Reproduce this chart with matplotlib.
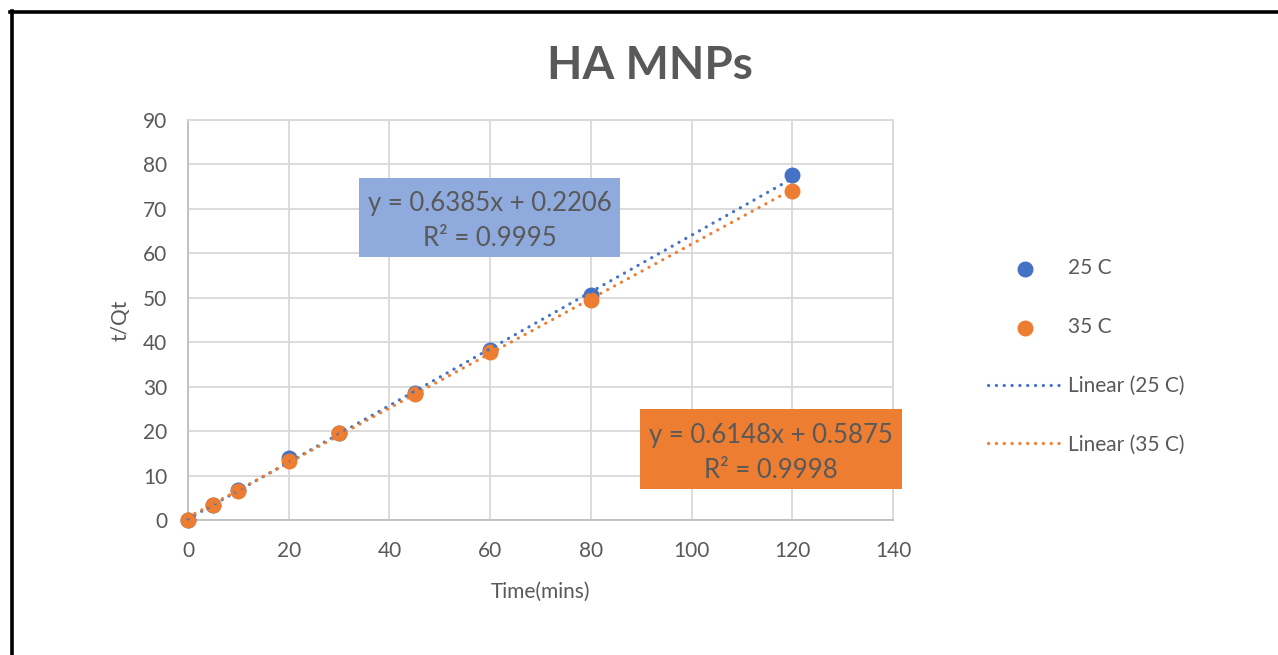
import numpy as np
import matplotlib
matplotlib.use("Agg")
import matplotlib.pyplot as plt
from matplotlib.lines import Line2D
from matplotlib.patches import Rectangle

# ──────────────────────────────────────────
# Data
# ──────────────────────────────────────────
time_mins = [0, 5, 10, 20, 30, 45, 60, 80, 120]
tqt_25c = [0.0, 3.4, 6.7, 14.0, 19.6, 28.6, 38.2, 50.6, 77.6]
tqt_35c = [0.0, 3.3, 6.6, 13.2, 19.5, 28.4, 37.9, 49.6, 74.1]

# Excel trendline coefficients as printed on the chart
fit_25c = (0.6385, 0.2206, 0.9995)   # slope, intercept, R²
fit_35c = (0.6148, 0.5875, 0.9998)

series_labels = ["25 C", "35 C"]
x_ticks = [0, 20, 40, 60, 80, 100, 120, 140]
y_ticks = [0, 10, 20, 30, 40, 50, 60, 70, 80, 90]

# ──────────────────────────────────────────
# Style
# ──────────────────────────────────────────
BLUE = "#4472C4"
ORANGE = "#ED7D31"
BOX_BLUE = "#8FAADC"
TEXT = "#595959"
GRID = "#D9D9D9"
FONT = ["Lato", "DejaVu Sans"]

plt.rcParams["font.family"] = FONT
W, H = 1278, 655
fig = plt.figure(figsize=(W / 100, H / 100), dpi=100)


def px(x0, y0, x1, y1):
    """Pixel box (from top-left) -> figure fraction rect."""
    return [x0 / W, 1 - y1 / H, (x1 - x0) / W, (y1 - y0) / H]


ax = fig.add_axes(px(188, 120, 893, 520))
ax.set_xlim(0, 140)
ax.set_ylim(0, 90)
ax.set_xticks(x_ticks)
ax.set_yticks(y_ticks)
ax.tick_params(length=0, labelsize=15, labelcolor=TEXT, pad=15)
ax.grid(True, color=GRID, linewidth=1.3)
ax.set_axisbelow(True)
for side in ["top", "right"]:
    ax.spines[side].set_color(GRID)
    ax.spines[side].set_linewidth(1.3)
for side in ["left", "bottom"]:
    ax.spines[side].set_color("#BFBFBF")
    ax.spines[side].set_linewidth(1.3)

# points
ax.scatter(time_mins, tqt_25c, s=110, color=BLUE, zorder=3,
           clip_on=False, label=series_labels[0])
ax.scatter(time_mins, tqt_35c, s=110, color=ORANGE, zorder=3,
           clip_on=False, label=series_labels[1])

# trendlines
xs = np.array([min(time_mins), max(time_mins)])
dots = (0, (0.05, 2.4))
for (m, b, _), col, lab in [(fit_25c, BLUE, series_labels[0]),
                            (fit_35c, ORANGE, series_labels[1])]:
    ax.plot(xs, m * xs + b, color=col, linewidth=2.3, linestyle=dots,
            dash_capstyle="round", zorder=4, clip_on=False,
            label=f"Linear ({lab})")

ax.set_xlabel("Time(mins)", fontsize=15, color=TEXT, labelpad=15)
ax.set_ylabel("t/Qt", fontsize=15, color=TEXT, labelpad=9)

fig.text(650 / W, 1 - 66 / H, "HA MNPs", ha="center", va="center",
         fontsize=33, fontweight="bold", color=TEXT)

# equation boxes
for (m, b, r2), face, box in [(fit_25c, BOX_BLUE, (359, 178, 620, 257)),
                              (fit_35c, ORANGE, (640, 409, 902, 489))]:
    rect = Rectangle(px(*box)[:2], px(*box)[2], px(*box)[3],
                     transform=fig.transFigure, facecolor=face,
                     edgecolor="none", zorder=5)
    fig.add_artist(rect)
    cx = (box[0] + box[2]) / 2 / W
    cy = 1 - ((box[1] + box[3]) / 2 + 4) / H
    fig.text(cx, cy, f"y = {m:.4f}x + {b:.4f}\nR² = {r2:.4f}",
             ha="center", va="center", fontsize=18.5, color=TEXT,
             linespacing=1.5, zorder=6)

# legend
handles, labels = ax.get_legend_handles_labels()
leg = fig.legend(handles, labels, loc="upper left",
                 bbox_to_anchor=(980 / W, 1 - 250 / H),
                 frameon=False, fontsize=15, labelcolor=TEXT,
                 handlelength=3.5, handletextpad=0.3, labelspacing=1.86,
                 scatterpoints=1, borderaxespad=0)

# outer frame (left and top edges visible in the reference)
fig.add_artist(Line2D([11.5 / W, 11.5 / W], [0, 1 - 11 / H],
                      color="black", linewidth=2.6, transform=fig.transFigure))
fig.add_artist(Line2D([10 / W, 1], [1 - 12 / H, 1 - 12 / H],
                      color="black", linewidth=2.6, transform=fig.transFigure))

fig.savefig("out.png", dpi=100, facecolor="white")
